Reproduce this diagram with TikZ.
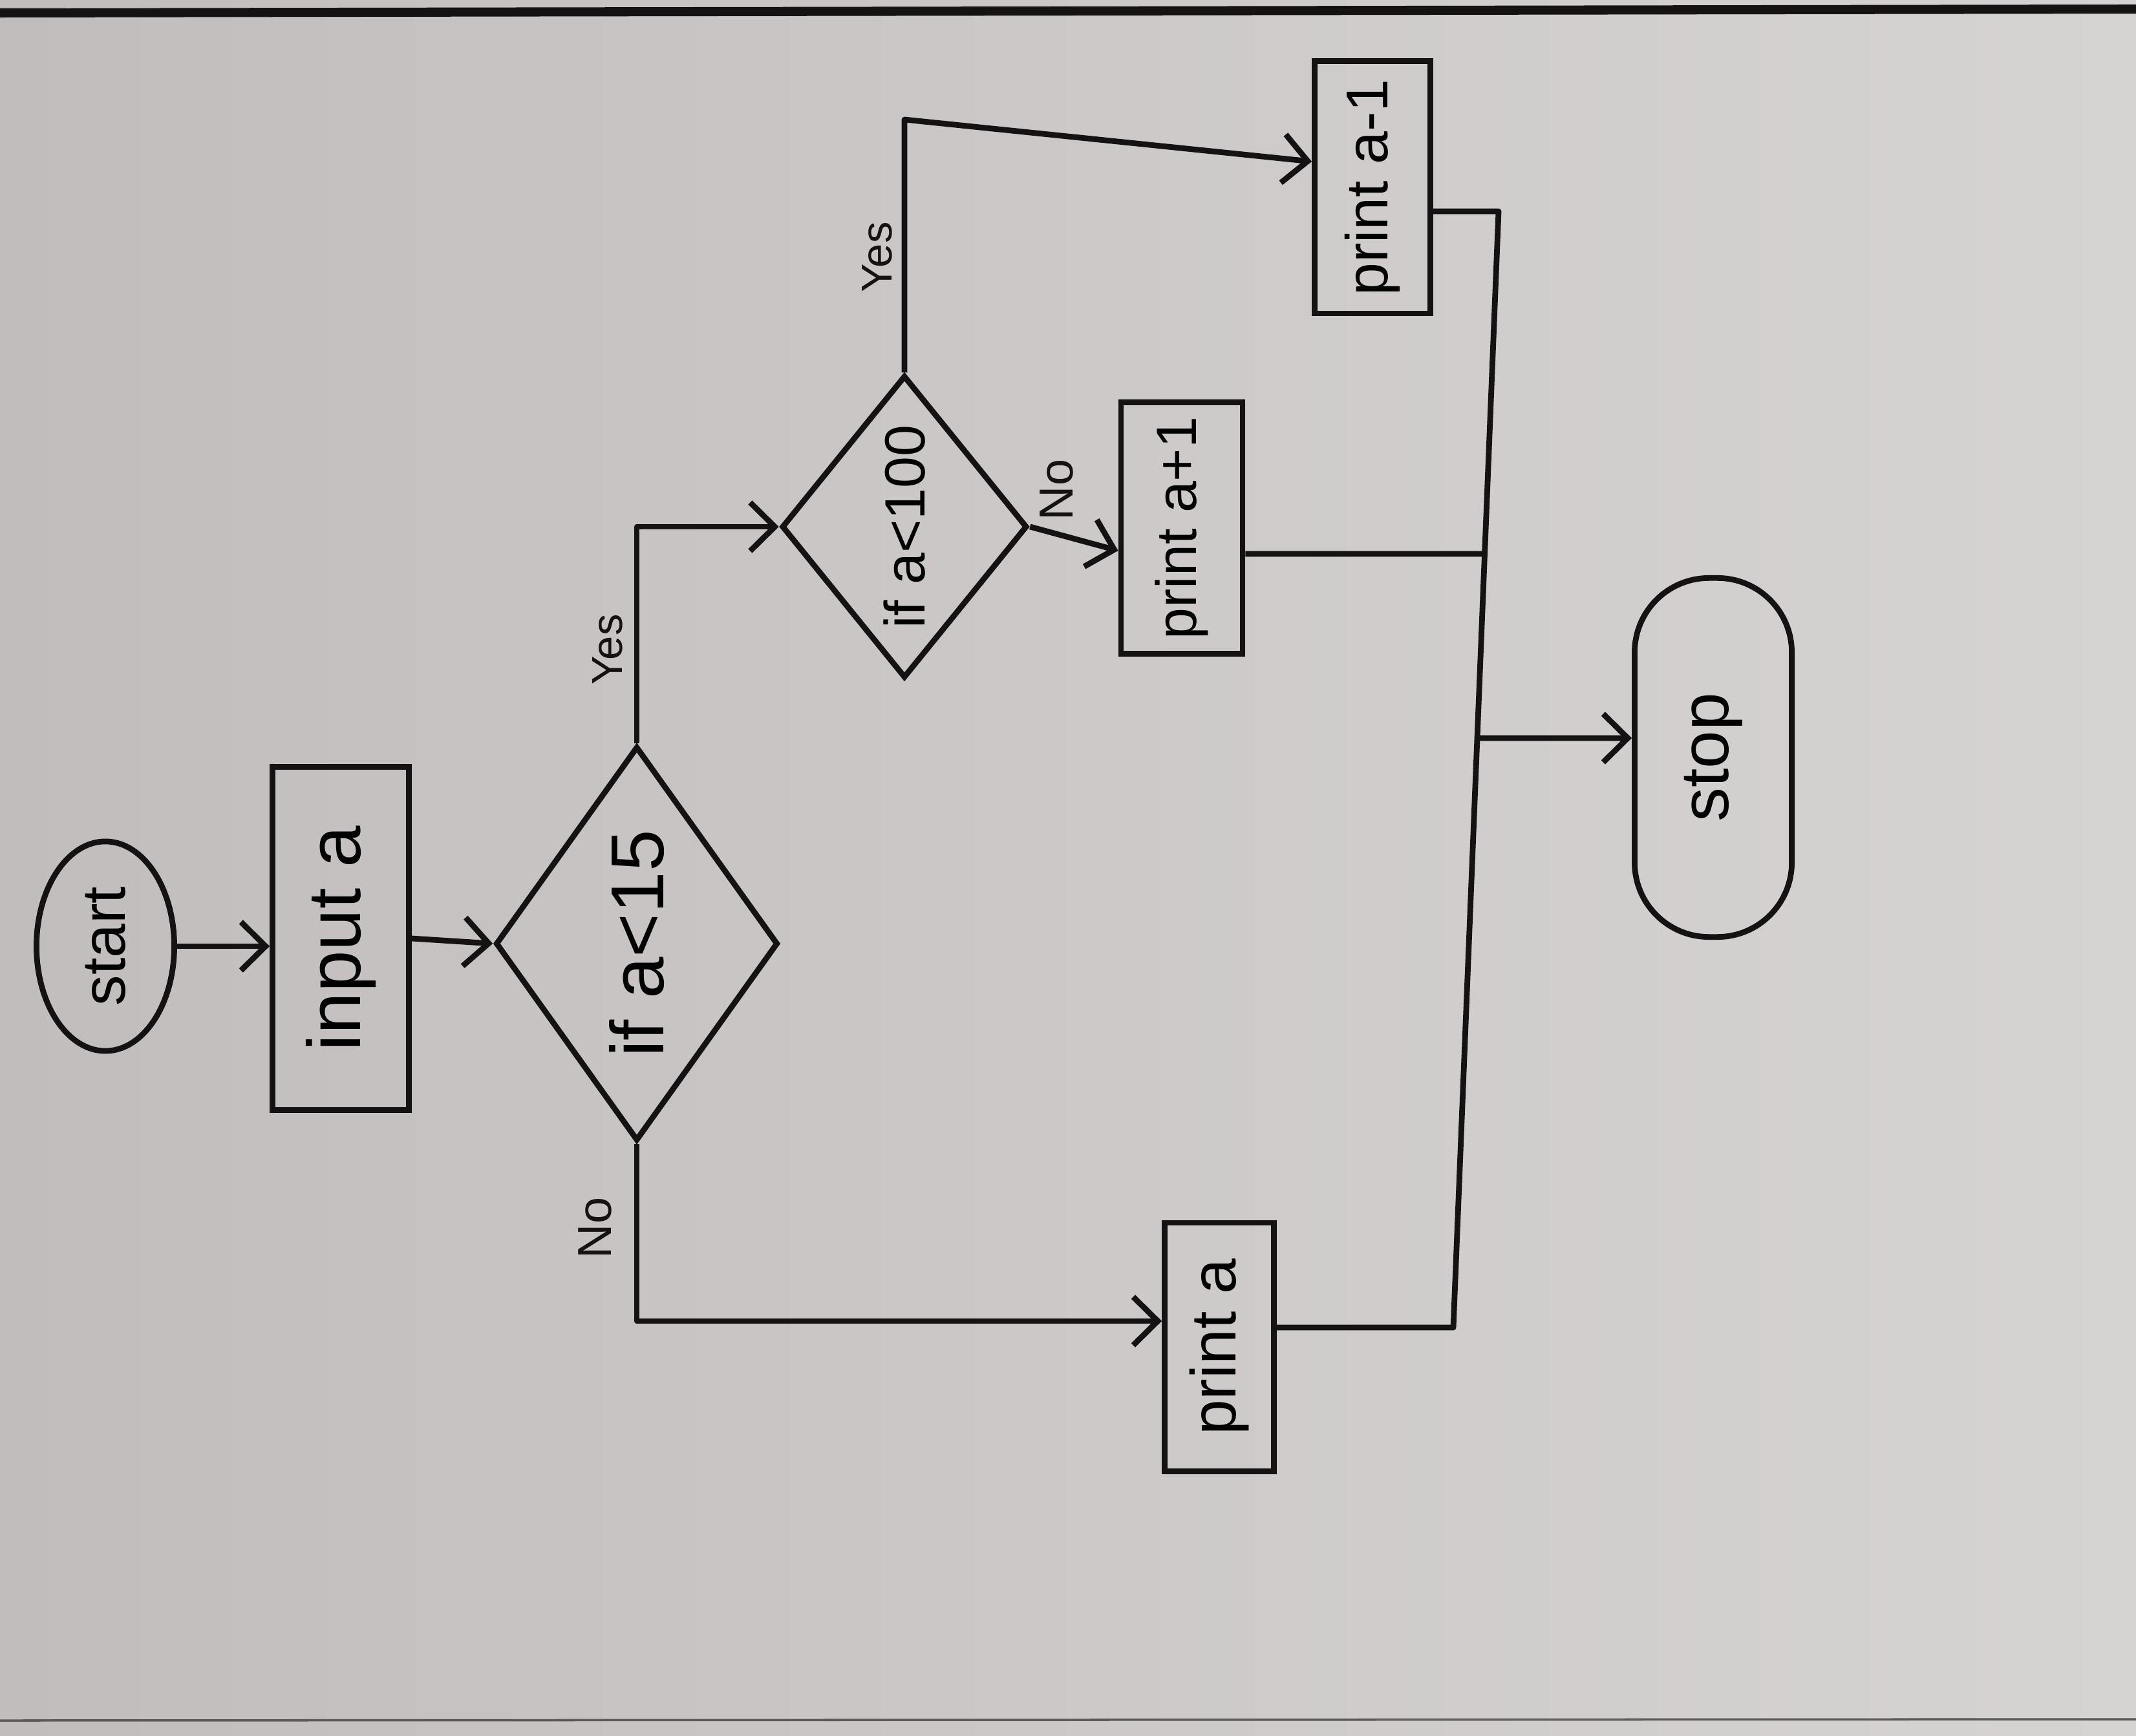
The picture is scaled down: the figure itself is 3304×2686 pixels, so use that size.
\documentclass[tikz,border=0pt]{standalone}
\usepackage{fontspec}
\setmainfont{Liberation Sans}
\usepackage{graphicx}
\usetikzlibrary{shapes.geometric,shapes.misc,arrows.meta}

\definecolor{paperL}{RGB}{194,189,189}
\definecolor{paperR}{RGB}{214,212,211}
\definecolor{ink}{RGB}{20,18,18}

\newcommand{\up}[2]{\rotatebox{90}{\fontsize{#1}{#1}\selectfont #2}}

\tikzset{
  flow/.style={draw=ink, line width=2.5pt, inner sep=0pt, align=center},
  term/.style={flow, ellipse},
  proc/.style={flow, rectangle},
  decide/.style={flow, diamond},
  capsule/.style={flow, rectangle, rounded corners=1.15cm},
  lbl/.style={text=ink, inner sep=0pt},
  conn/.style={draw=ink, line width=2.5pt, line join=round},
  arr/.style={conn, -{Straight Barb[length=0.38cm, width=0.75cm, line width=2.5pt]}}
}

\begin{document}
\begin{tikzpicture}[x=0.01cm, y=-0.01cm]
  % sheet of paper
  \useasboundingbox (0,0) rectangle (3304,2686);
  \fill[left color=paperL, right color=paperR] (0,0) rectangle (3304,2686);
  \draw[ink, line width=4pt] (0,20) -- (3304,14);
  \draw[ink!70, line width=1pt] (0,2662) -- (3304,2660);

  % shapes
  \node[term, minimum width=2.13cm, minimum height=3.24cm] (start) at (163,1464) {\up{27}{start}};
  \node[proc, minimum width=2.11cm, minimum height=5.31cm] (input) at (527,1452) {\up{33}{input a}};
  \node[decide, minimum width=3.5cm, minimum height=6.1cm] (d1) at (985,1460) {\up{33}{if a<15}};
  \node[decide, minimum width=3.54cm, minimum height=4.68cm] (d2) at (1399,815) {\up{25}{if a<100}};
  \node[proc, minimum width=1.79cm, minimum height=3.9cm] (pm1) at (2123,290) {\up{26}{print a-1}};
  \node[proc, minimum width=1.88cm, minimum height=3.89cm] (pa1) at (1828,817) {\up{25}{print a+1}};
  \node[proc, minimum width=1.69cm, minimum height=3.84cm] (pa) at (1886,2084) {\up{28}{print a}};
  \node[capsule, minimum width=2.43cm, minimum height=5.55cm] (stop) at (2650,1172) {\up{30}{stop}};

  % branch labels
  \node[lbl] (yes1) at (940,1005) {\up{19}{Yes}};
  \node[lbl] (yes2) at (1357,398) {\up{19}{Yes}};
  \node[lbl] (no2) at (1634,758) {\up{21}{No}};
  \node[lbl] (no1) at (920,1900) {\up{21}{No}};

  % bend points and the collecting line
  \coordinate (yesTop) at (0,185);
  \coordinate (busTop) at (2318,327);
  \coordinate (busA) at (2296,857);
  \coordinate (busB) at (2285,1142);
  \coordinate (busBot) at (2248,2054);

  % connectors
  \draw[arr] (start.east) -- (start.east -| input.west);
  \draw[arr] (input.east) -- (d1.west);
  \draw[arr] (d1.north) |- (d2.west);
  \draw[arr] (d2.north) -- (d2.north |- yesTop) -- ([yshift=0.4cm]pm1.west);
  \draw[arr] (d2.east) -- ([yshift=-0.35cm]pa1.west);
  \draw[arr] (d1.south) |- ([yshift=0.4cm]pa.west);

  \draw[conn] ([yshift=-0.37cm]pm1.east) -- (busTop) -- (busBot) -- ([yshift=0.3cm]pa.east);
  \draw[conn] ([yshift=-0.4cm]pa1.east) -- (busA);
  \draw[arr] (busB) -- ([yshift=0.3cm]stop.west);
\end{tikzpicture}
\end{document}
